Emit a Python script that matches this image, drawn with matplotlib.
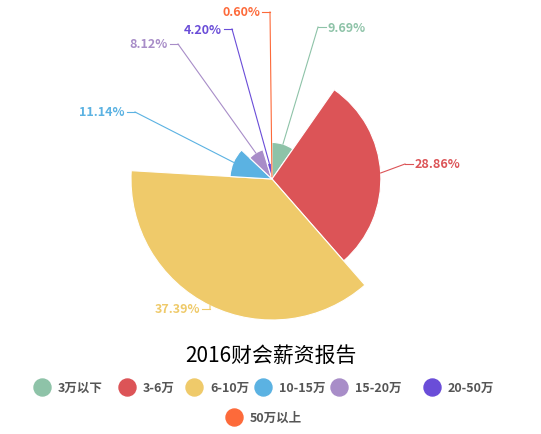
import matplotlib.pyplot as plt
from matplotlib.patches import Wedge
import numpy as np

plt.rcParams['font.family'] = ['Noto Sans CJK SC', 'DejaVu Sans']

names = ['3万以下', '3-6万', '6-10万', '10-15万', '15-20万', '20-50万', '50万以上']
values = [9.69, 28.86, 37.39, 11.14, 8.12, 4.20, 0.60]
colors = ['#8ec3a8', '#dc5457', '#efca6a', '#5bb2e2', '#a88dc8', '#6a4dd8', '#fd6a3a']
# label anchor positions (pixels, y down) and side
label_pos = [(318, 28), (405, 165), (210, 310), (135, 113), (178, 45), (232, 30), (270, 13)]
label_side = ['r', 'r', 'l', 'l', 'l', 'l', 'l']

W, H = 541, 435
fig = plt.figure(figsize=(W / 100, H / 100), dpi=100)
ax = fig.add_axes([0, 0, 1, 1])
ax.set_xlim(0, W)
ax.set_ylim(0, H)
ax.axis('off')

cx, cy = 272, H - 180
rmax = 141
total = sum(values)
start = 90.0
for v, c, (lx, ly), side in zip(values, colors, label_pos, label_side):
    span = v / total * 360
    r = rmax * v / max(values)
    ax.add_patch(Wedge((cx, cy), r, start - span, start, facecolor=c, edgecolor='white', lw=0.8))
    mid = np.radians(start - span / 2)
    ex, ey = cx + r * np.cos(mid), cy + r * np.sin(mid)
    ly2 = H - ly
    ax.plot([ex, lx], [ey, ly2], color=c, lw=0.8)
    txt = f'{v:.2f}%'
    if side == 'r':
        ax.plot([lx, lx + 8], [ly2, ly2], color=c, lw=0.8)
        ax.text(lx + 10, ly2, txt, color=c, fontsize=9, fontweight='bold', va='center', ha='left')
    else:
        ax.plot([lx - 8, lx], [ly2, ly2], color=c, lw=0.8)
        ax.text(lx - 10, ly2, txt, color=c, fontsize=9, fontweight='bold', va='center', ha='right')
    start -= span

ax.text(W / 2, H - 357, '2016财会薪资报告', fontsize=15, ha='center', va='center', color='black')

leg_x = [42, 127, 194, 263, 339, 432, 234]
leg_y = [388, 388, 388, 388, 388, 388, 418]
for n, c, x, y in zip(names, colors, leg_x, leg_y):
    ax.scatter([x], [H - y], s=150, color=c)
    ax.text(x + 16, H - y, n, fontsize=9, fontweight='bold', color='#555555', va='center', ha='left')

fig.savefig('out.png', dpi=100)
